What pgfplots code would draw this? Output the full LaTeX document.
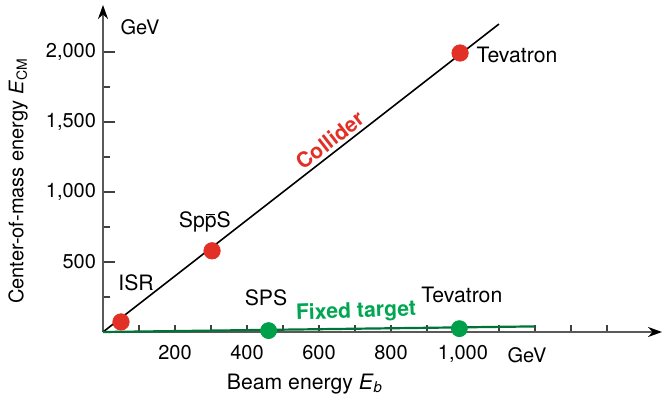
\documentclass[border=0pt]{standalone}
\usepackage{fontspec}
\setmainfont{TeX Gyre Heros}
\usepackage{pgfplots}
\pgfplotsset{compat=1.18}
\usetikzlibrary{arrows.meta}
\definecolor{cred}{RGB}{226,48,38}
\definecolor{cgpt}{RGB}{0,160,75}
\definecolor{cgline}{RGB}{0,115,55}
\definecolor{cgtext}{RGB}{0,166,81}
\newcommand{\fs}{\fontsize{10}{12}\selectfont}
\newcommand{\fa}{\fontsize{10.6}{12.5}\selectfont}
\begin{document}
\begin{tikzpicture}[font=\fs]
\begin{axis}[
 scale only axis, width=279.5pt, height=163.5pt,
 xmin=0, xmax=1553, ymin=0, ymax=2336,
 axis lines=left,
 axis line style={draw=black!65, line width=0.9pt, -{Stealth[length=7pt,width=5pt,black]}},
 tick align=inside,
 xtick={200,400,600,800,1000},
 minor xtick={100,200,...,1400},
 ytick={500,1000,1500,2000},
 minor ytick={250,750,1250,1750},
 every tick/.style={black!75, line width=0.6pt},
 every major x tick/.append style={draw=none},
 major tick length=6pt, minor tick length=3.5pt,
 tick label style={font=\fs},
 /pgf/number format/assume math mode=true,
 /pgf/number format/1000 sep={,},
 xticklabel style={yshift=-3pt},
 clip=false,
]
\addplot[black, line width=0.8pt] coordinates {(0,0) (1100,2200)};
\addplot[cgline, line width=1.1pt] coordinates {(0,0) (1200,40)};
\addplot[only marks, mark=*, mark size=4.1pt, cred, mark options={draw=none}] coordinates {(50,72) (303,580) (992,1993)};
\addplot[only marks, mark=*, mark size=4pt, cgpt, mark options={draw=none}] coordinates {(460,10) (990,24)};
\node[font=\fa] at (axis cs:92,350) {ISR};
\node[font=\fa] at (axis cs:283,786) {Sp\ooalign{p\cr\hidewidth\rule[0.6em]{0.42em}{0.06em}\hidewidth\cr}S};
\node[font=\fa] at (axis cs:1150,1979) {Tevatron};
\node[font=\fa] at (axis cs:453,243) {SPS};
\node[font=\fa] at (axis cs:997,264) {Tevatron};
\node[rotate=38, text=cred, font=\fa\bfseries] at (axis cs:631,1371) {Collider};
\node[rotate=2, text=cgtext, font=\fa\bfseries] at (axis cs:703,143) {Fixed target};
\node at (axis cs:103,2179) {GeV};
\node at (axis cs:1178,-164) {GeV};
\node[font=\fa] at (axis cs:561,-371) {Beam energy \textit{E}\textsubscript{\textit{b}}};
\node[rotate=90] at (axis cs:-236,1079) {Center-of-mass energy \textit{E}\textsubscript{CM}};
\end{axis}
\pgfresetboundingbox
\path ([shift={(-51.5pt,-34.5pt)}]current axis.south west) rectangle ([shift={(0pt,2.5pt)}]current axis.north east);
\end{tikzpicture}
\end{document}
